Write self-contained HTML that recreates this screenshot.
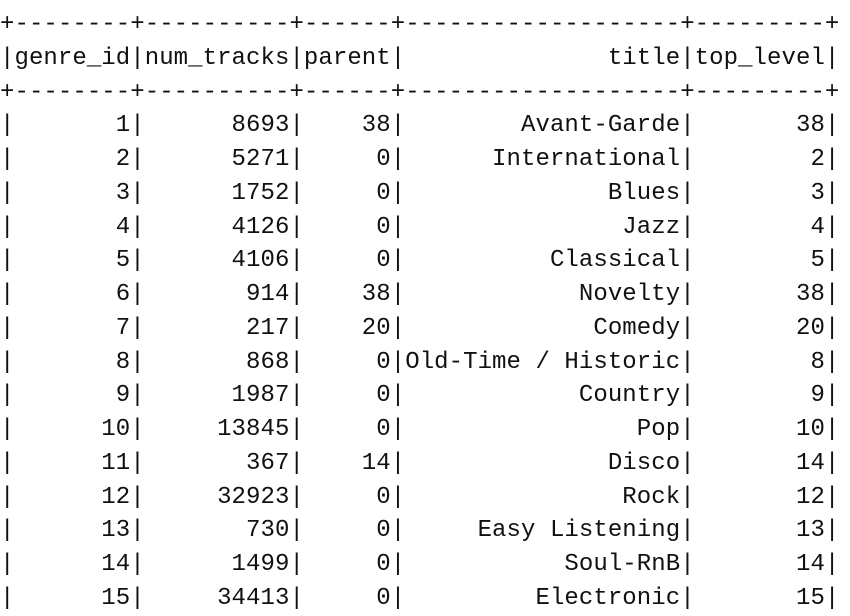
<!DOCTYPE html>
<html><head><meta charset="utf-8"><style>
html,body{margin:0;padding:0;background:#fff;width:850px;height:614px;overflow:hidden}
pre{position:absolute;left:0;top:8px;margin:0;font-family:"Liberation Mono","DejaVu Sans Mono",monospace;font-size:24px;letter-spacing:0.07px;line-height:33.77px;color:#111}
</style></head><body>
<pre>+--------+----------+------+-------------------+---------+
|genre_id|num_tracks|parent|              title|top_level|
+--------+----------+------+-------------------+---------+
|       1|      8693|    38|        Avant-Garde|       38|
|       2|      5271|     0|      International|        2|
|       3|      1752|     0|              Blues|        3|
|       4|      4126|     0|               Jazz|        4|
|       5|      4106|     0|          Classical|        5|
|       6|       914|    38|            Novelty|       38|
|       7|       217|    20|             Comedy|       20|
|       8|       868|     0|Old-Time / Historic|        8|
|       9|      1987|     0|            Country|        9|
|      10|     13845|     0|                Pop|       10|
|      11|       367|    14|              Disco|       14|
|      12|     32923|     0|               Rock|       12|
|      13|       730|     0|     Easy Listening|       13|
|      14|      1499|     0|           Soul-RnB|       14|
|      15|     34413|     0|         Electronic|       15|</pre>
</body></html>
